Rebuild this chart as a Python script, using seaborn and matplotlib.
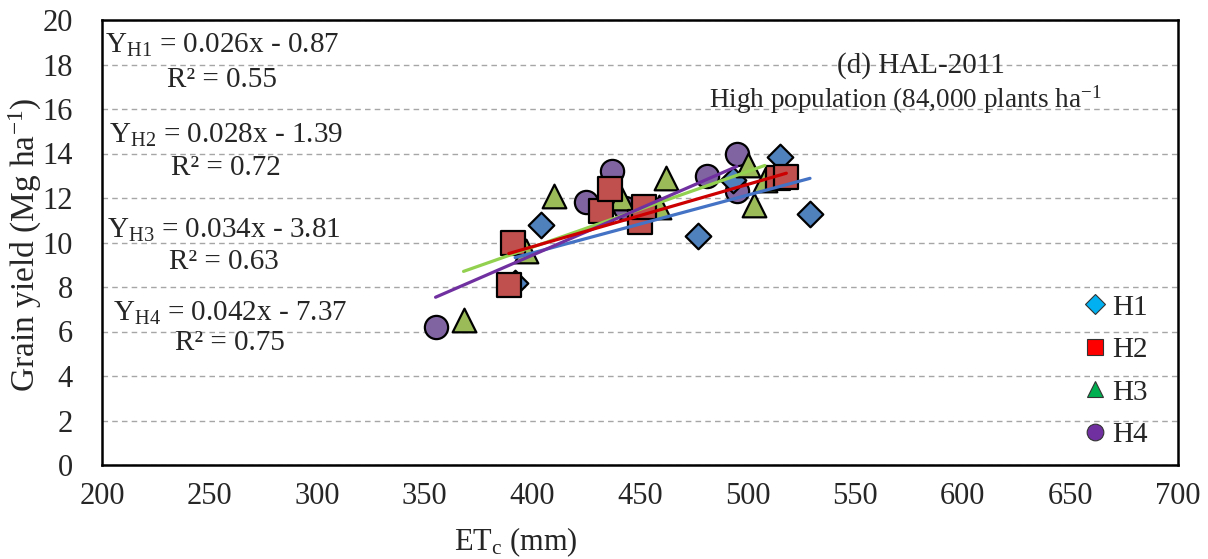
import numpy as np
import pandas as pd
import matplotlib
matplotlib.use("Agg")
import matplotlib.pyplot as plt
from matplotlib.lines import Line2D
import seaborn as sns

# ---- data ----
groups = ["H1", "H2", "H3", "H4"]
h1_x = [392, 404, 477, 493, 515, 529]
h1_y = [8.2, 10.8, 10.3, 12.8, 13.85, 11.3]
h2_x = [389, 391, 432, 436, 450, 452, 514, 518]
h2_y = [8.1, 10.0, 11.4, 12.4, 10.9, 11.6, 12.9, 12.95]
h3_x = [368, 397, 410, 441, 459, 462, 500, 503, 508]
h3_y = [6.5, 9.6, 12.1, 12.0, 11.6, 12.9, 13.5, 11.7, 12.8]
h4_x = [355, 425, 437, 443, 481, 495, 495]
h4_y = [6.2, 11.8, 13.2, 11.55, 13.0, 14.0, 12.3]
slopes = [0.026, 0.028, 0.034, 0.042]
intercepts = [-0.87, -1.39, -3.81, -7.37]
r2_values = ["0.55", "0.72", "0.63", "0.75"]
x_ticks = [200, 250, 300, 350, 400, 450, 500, 550, 600, 650, 700]
y_ticks = [0, 2, 4, 6, 8, 10, 12, 14, 16, 18, 20]

xs = [h1_x, h2_x, h3_x, h4_x]
ys = [h1_y, h2_y, h3_y, h4_y]

sns.set_theme(style="white")
plt.rcParams["font.family"] = ["Liberation Serif", "DejaVu Serif"]
plt.rcParams["mathtext.fontset"] = "custom"
plt.rcParams["mathtext.rm"] = "Liberation Serif"
plt.rcParams["mathtext.it"] = "Liberation Serif:italic"

W, H = 1208, 559
fig = plt.figure(figsize=(12.08, 5.59), dpi=100)
ax = fig.add_axes([102 / W, 1 - 465 / H, (1178 - 102) / W, (465 - 20) / H])

marker_face = ["#4F81BD", "#C0504D", "#9BBB59", "#8064A2"]
markers = ["D", "s", "^", "o"]
sizes = [170, 290, 290, 280]
zorders = [4, 6, 5, 3]
line_colors = ["#4472C4", "#CC0000", "#92D050", "#7030A0"]
line_z = [7, 10, 8, 9]

for i, g in enumerate(groups):
    df = pd.DataFrame({"x": xs[i], "y": ys[i]})
    sns.scatterplot(data=df, x="x", y="y", marker=markers[i], s=sizes[i],
                    color=marker_face[i], edgecolor="black", linewidth=1.6,
                    zorder=zorders[i], ax=ax, legend=False)

for i, g in enumerate(groups):
    xmin, xmax = min(xs[i]), max(xs[i])
    lx = np.array([xmin, xmax])
    ly = slopes[i] * lx + intercepts[i]
    sns.lineplot(x=lx, y=ly, color=line_colors[i], linewidth=2.3,
                 zorder=line_z[i], ax=ax, legend=False)

ax.set_xlim(200, 700)
ax.set_ylim(0, 20)
ax.set_xticks(x_ticks)
ax.set_yticks(y_ticks)
ax.set_xticklabels([str(v) for v in x_ticks], fontsize=22)
ax.set_yticklabels([str(v) for v in y_ticks], fontsize=22)
ax.tick_params(axis="x", direction="inout", length=12, width=1, color="black", pad=6)
ax.tick_params(axis="y", direction="out", length=9, width=1, color="black", pad=12)
ax.yaxis.grid(True, linestyle=(0, (4, 3)), color="#A6A6A6", linewidth=1.0)
ax.xaxis.grid(False)
ax.set_axisbelow(True)
for sp in ax.spines.values():
    sp.set_color("black")
    sp.set_linewidth(1.8)

ax.set_xlabel("")
ax.set_ylabel("")
fig.text(516 / W, 1 - 542 / H, "ET$_{\\mathregular{c}}$ (mm)", fontsize=22,
         ha="center", va="center")
fig.text(25 / W, 1 - 245 / H, "Grain yield (Mg ha$^{\\mathregular{-1}}$)", fontsize=24,
         ha="center", va="center", rotation=90)

# equations
eq_y_pix = [(45, 80), (135, 168), (230, 262), (313, 343)]
eq_x_pix = [222, 226, 224, 230]
for i, g in enumerate(groups):
    sign = "-" if intercepts[i] < 0 else "+"
    eq = "Y$_{\\mathregular{%s}}$ = %.3fx %s %.2f" % (g, slopes[i], sign, abs(intercepts[i]))
    fig.text(eq_x_pix[i] / W, 1 - eq_y_pix[i][0] / H, eq, fontsize=21,
             ha="center", va="center")
    fig.text(eq_x_pix[i] / W, 1 - eq_y_pix[i][1] / H, "R² = " + r2_values[i],
             fontsize=21, ha="center", va="center")

fig.text(921 / W, 1 - 66 / H, "(d) HAL-2011", fontsize=21, ha="center", va="center")
fig.text(905 / W, 1 - 100 / H, "High population (84,000 plants ha$^{\\mathregular{-1}}$",
         fontsize=19.5, ha="center", va="center")

leg_colors = ["#00B0F0", "#FF0000", "#00B050", "#7030A0"]
handles = [Line2D([0], [0], marker=markers[i], linestyle="none",
                  markerfacecolor=leg_colors[i], markeredgecolor="#333333",
                  markeredgewidth=0.8, markersize=12 if markers[i] != "D" else 10)
           for i in range(4)]
leg = ax.legend(handles, groups, loc="lower right",
                bbox_to_anchor=((1148 - 102) / (1178 - 102), (465 - 448) / (465 - 20)),
                frameon=False, fontsize=21, handletextpad=0.0, handlelength=1.2,
                labelspacing=0.55, borderaxespad=0.0, borderpad=0.0)

fig.savefig("out.png", dpi=100)
